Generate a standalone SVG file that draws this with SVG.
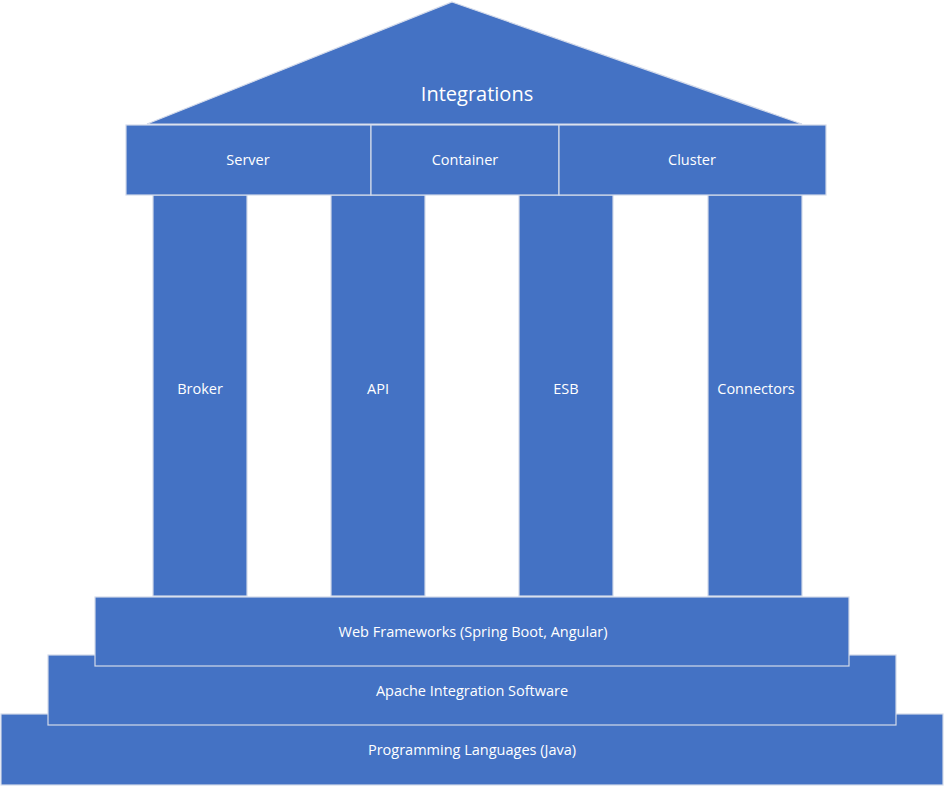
<svg xmlns="http://www.w3.org/2000/svg" width="945" height="786" viewBox="0 0 945 786">
<style>
.b{fill:#4472C4;stroke:#D3DAEA;stroke-width:1.2}
.t{fill:#FFFFFF;font-family:"Open Sans","Liberation Sans",sans-serif;font-size:14.5px;text-anchor:middle;dominant-baseline:central}
.big{font-size:20px}
</style>
<rect width="945" height="786" fill="#FFFFFF"/>
<g id="programming-languages">
<rect class="b" x="1" y="714" width="942" height="71"/>
<text class="t" x="472" y="749">Programming Languages (Java)</text>
</g>
<g id="apache-integration">
<rect class="b" x="48" y="655" width="848" height="70"/>
<text class="t" x="472" y="690">Apache Integration Software</text>
</g>
<g id="web-frameworks">
<rect class="b" x="95" y="597" width="754" height="69"/>
<text class="t" x="473" y="631">Web Frameworks (Spring Boot, Angular)</text>
</g>
<g id="broker">
<rect class="b" x="153" y="195" width="94" height="401"/>
<text class="t" x="200" y="388">Broker</text>
</g>
<g id="api">
<rect class="b" x="331" y="195" width="94" height="401"/>
<text class="t" x="378" y="388">API</text>
</g>
<g id="esb">
<rect class="b" x="519" y="195" width="94" height="401"/>
<text class="t" x="566" y="388">ESB</text>
</g>
<g id="connectors">
<rect class="b" x="708" y="195" width="94" height="401"/>
<text class="t" x="756" y="388">Connectors</text>
</g>
<g id="server">
<rect class="b" x="126" y="125" width="245" height="70"/>
<text class="t" x="248" y="159">Server</text>
</g>
<g id="container">
<rect class="b" x="371" y="125" width="188" height="70"/>
<text class="t" x="465" y="159">Container</text>
</g>
<g id="cluster">
<rect class="b" x="559" y="125" width="267" height="70"/>
<text class="t" x="692" y="159">Cluster</text>
</g>
<g id="integrations">
<polygon class="b" points="452,2 802,124 147,124"/>
<text class="t big" x="477" y="93">Integrations</text>
</g>
<g id="connectors-group"></g>
</svg>
